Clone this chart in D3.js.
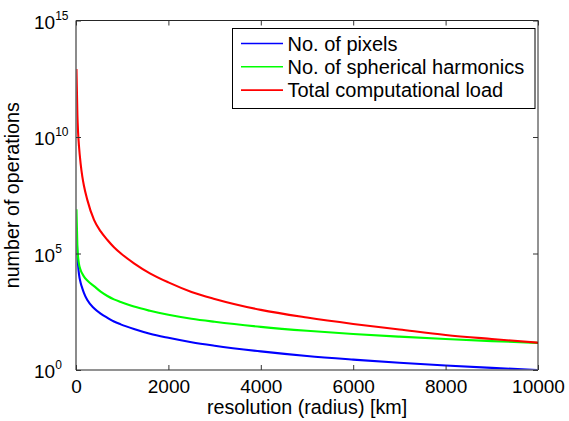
<!DOCTYPE html>
<html>
<head>
<meta charset="utf-8">
<script src="https://cdn.jsdelivr.net/npm/d3@7"></script>
<style>
  html, body { margin: 0; padding: 0; background: #fff; }
  svg { display: block; font-family: "Liberation Sans", Arial, sans-serif; }
</style>
</head>
<body>
<svg id="chart" width="569" height="421"></svg>
<script>
// ---- data ----
const radius = [10, 30, 45, 65, 100, 137, 173, 245, 390, 534, 680, 822, 967, 1255, 1600, 2000, 2500, 3000, 4000, 5000, 6000, 7000, 8000, 9000, 10000];
const pixels = [7.9e5, 8.9e4, 3.2e4, 1.26e4, 5.6e3, 3.2e3, 2.0e3, 1.0e3, 447, 263, 174, 120, 91, 57.5, 36, 24, 15.5, 11, 6.3, 4.0, 2.8, 2.04, 1.55, 1.23, 1.0];
const harmonics = [7.9e6, 2.0e5, 7.2e4, 3.5e4, 1.95e4, 1.35e4, 1.02e4, 6.9e3, 4.0e3, 2.3e3, 1.5e3, 1.07e3, 832, 525, 347, 234, 158, 117, 71, 48, 35, 27, 21.4, 17.4, 14.5];
const totalLoad = [8.3e12, 8.9e10, 1.6e10, 4.0e9, 7.2e8, 2.0e8, 7.9e7, 2.0e7, 2.75e6, 8.9e5, 3.8e5, 1.86e5, 1.02e5, 3.8e4, 1.41e4, 5.75e3, 2.24e3, 1.12e3, 380, 178, 95, 55, 32, 21.4, 14.8];
const seriesNames = ["No. of pixels", "No. of spherical harmonics", "Total computational load"];
const seriesColors = ["#0000ff", "#00ff00", "#ff0000"];
const xTicks = [0, 2000, 4000, 6000, 8000, 10000];
const yTickExps = [0, 5, 10, 15];
const xLabel = "resolution (radius) [km]";
const yLabel = "number of operations";

// ---- layout ----
const svg = d3.select("#chart");
const L = 76, R = 538, T = 20.5, B = 370;
const FS = 19;
const FL = 19.7;

const x = d3.scaleLinear().domain([0, 10000]).range([L, R]);
const y = d3.scaleLog().domain([1, 1e15]).range([B, T]);

svg.append("rect").attr("width", 569).attr("height", 421).attr("fill", "#fff");

// clip
svg.append("clipPath").attr("id", "clip")
  .append("rect").attr("x", L).attr("y", T).attr("width", R - L).attr("height", B - T);

const series = [pixels, harmonics, totalLoad];
const line = d3.line().x(d => x(d[0])).y(d => y(d[1])).curve(d3.curveMonotoneX);
const g = svg.append("g").attr("clip-path", "url(#clip)");
series.forEach((vals, i) => {
  g.append("path")
    .datum(radius.map((r, j) => [r, vals[j]]))
    .attr("fill", "none")
    .attr("stroke", seriesColors[i])
    .attr("stroke-width", 2.1)
    .attr("d", line);
});

// axes box
const axisColor = "#262626";
svg.append("line").attr("x1", L).attr("x2", R).attr("y1", T).attr("y2", T).attr("stroke", axisColor).attr("stroke-width", 1);
svg.append("line").attr("x1", R).attr("x2", R).attr("y1", T).attr("y2", B).attr("stroke", axisColor).attr("stroke-width", 1);
svg.append("line").attr("x1", L).attr("x2", L).attr("y1", T).attr("y2", B).attr("stroke", "#6e6e6e").attr("stroke-width", 1.6);
svg.append("line").attr("x1", L).attr("x2", R).attr("y1", B).attr("y2", B).attr("stroke", "#6e6e6e").attr("stroke-width", 1.6);

// x ticks (bottom & top, inward) with d3 axis
const xAxis = d3.axisBottom(x).tickValues(xTicks).tickSizeInner(-5).tickSizeOuter(0).tickPadding(10).tickFormat(d3.format("d"));
const gx = svg.append("g").attr("transform", `translate(0,${B})`).call(xAxis);
gx.select(".domain").remove();
gx.selectAll(".tick line").attr("stroke", "#333");
gx.selectAll(".tick text").attr("font-size", FS).attr("fill", "#000").attr("font-family", "Liberation Sans, Arial, sans-serif");

const xAxisTop = d3.axisTop(x).tickValues(xTicks).tickSizeInner(-5).tickSizeOuter(0).tickFormat("");
const gxt = svg.append("g").attr("transform", `translate(0,${T})`).call(xAxisTop);
gxt.select(".domain").remove();
gxt.selectAll(".tick line").attr("stroke", "#333");

// y ticks (left & right, inward)
const yVals = yTickExps.map(e => Math.pow(10, e));
const yAxisL = d3.axisLeft(y).tickValues(yVals).tickSizeInner(-5).tickSizeOuter(0).tickFormat("");
const gyl = svg.append("g").attr("transform", `translate(${L},0)`).call(yAxisL);
gyl.select(".domain").remove();
gyl.selectAll(".tick line").attr("stroke", "#333");
const yAxisR = d3.axisRight(y).tickValues(yVals).tickSizeInner(-5).tickSizeOuter(0).tickFormat("");
const gyr = svg.append("g").attr("transform", `translate(${R},0)`).call(yAxisR);
gyr.select(".domain").remove();
gyr.selectAll(".tick line").attr("stroke", "#333");

// y tick labels: 10^n
yTickExps.forEach(e => {
  const t = svg.append("text")
    .attr("x", 34).attr("y", y(Math.pow(10, e)) + 8)
    .attr("font-size", FS).attr("fill", "#000");
  t.append("tspan").text("10");
  t.append("tspan").attr("font-size", 12).attr("dy", -9).text(String(e));
});

// axis labels
svg.append("text")
  .attr("x", (L + R) / 2).attr("y", 414)
  .attr("text-anchor", "middle").attr("font-size", FL).attr("fill", "#000")
  .text(xLabel);
svg.append("text")
  .attr("transform", `translate(19,${(T + B) / 2}) rotate(-90)`)
  .attr("text-anchor", "middle").attr("font-size", FL).attr("fill", "#000")
  .text(yLabel);

// legend
const lg = svg.append("g");
lg.append("rect").attr("x", 232.5).attr("y", 28.5).attr("width", 302.5).attr("height", 80)
  .attr("fill", "#fff").attr("stroke", "#000").attr("stroke-width", 1);
seriesNames.forEach((name, i) => {
  const cy = 43.5 + i * 23.3;
  lg.append("line").attr("x1", 241).attr("x2", 283).attr("y1", cy).attr("y2", cy)
    .attr("stroke", seriesColors[i]).attr("stroke-width", 1.6);
  lg.append("text").attr("x", 287.5).attr("y", cy + 7)
    .attr("font-size", 20).attr("fill", "#000").text(name);
});
</script>
</body>
</html>
